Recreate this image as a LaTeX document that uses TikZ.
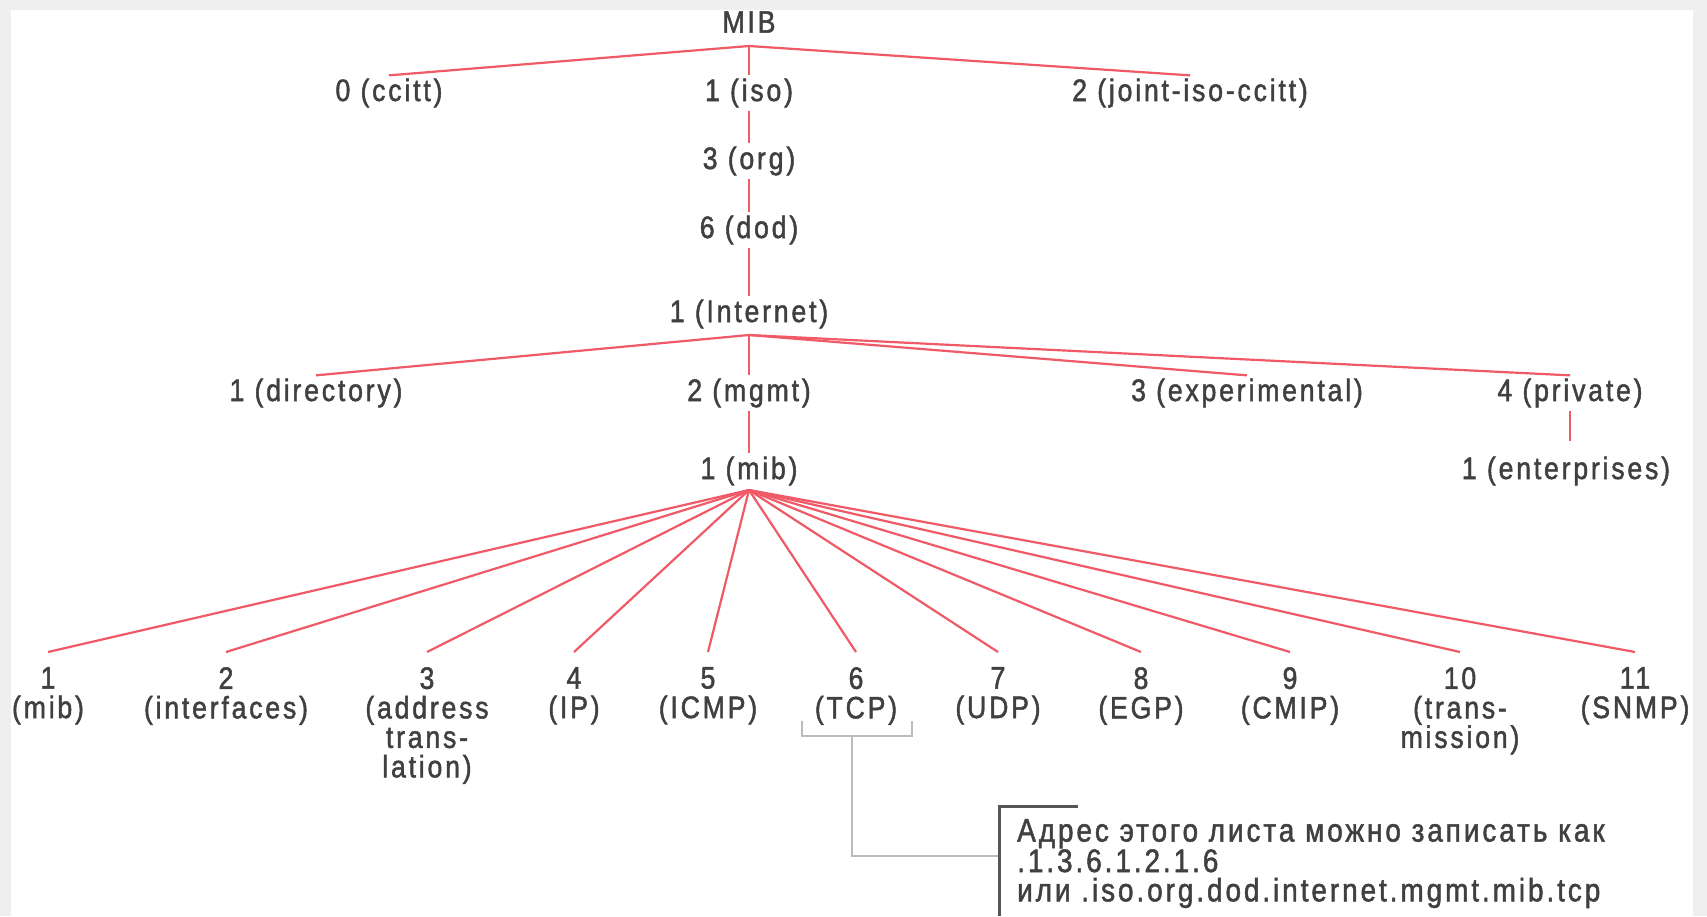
\documentclass[tikz,border=0pt]{standalone}
\usepackage{fontspec}
\setmainfont[LetterSpace=9,FakeStretch=0.86,FakeBold=1.5]{Liberation Sans}
\definecolor{bgc}{HTML}{EFEFEF}
\definecolor{redl}{HTML}{F05A66}
\definecolor{txt}{HTML}{404040}
\definecolor{brk}{HTML}{BBBBBB}
\definecolor{boxc}{HTML}{555555}
\tikzset{
  lbl/.style={font=\fontsize{31}{29.5}\selectfont, text=txt, inner sep=3pt, align=center},
  edge/.style={draw=redl, line width=2.2pt},
  bracketline/.style={draw=brk, line width=2.5pt},
  boxline/.style={draw=boxc, line width=3pt},
  note/.style={font=\fontsize{32.5}{29.3}\selectfont, text=txt, align=left, inner sep=0pt, anchor=north west}
}
\begin{document}
\begin{tikzpicture}[x=1pt,y=-1pt]
\useasboundingbox (0,0) rectangle (1707,916);
\fill[bgc] (0,0) rectangle (1707,916);
\fill[white] (11,10) rectangle (1693,916);

% top levels
\node[lbl] (mib0) at (749,22) {MIB};
\coordinate (J0) at (749,46);
\node[lbl] (ccitt) at (389,93) {0 (ccitt)};
\node[lbl] (iso) at (749,93) {1 (iso)};
\node[lbl] (joint) at (1190,93) {2 (joint-iso-ccitt)};
\node[lbl] (org) at (749,161) {3 (org)};
\node[lbl] (dod) at (749,230) {6 (dod)};
\node[lbl] (inet) at (749,314) {1 (Internet)};
\coordinate (J1) at (749,335);
\node[lbl] (dir) at (316,393) {1 (directory)};
\node[lbl] (mgmt) at (749,393) {2 (mgmt)};
\node[lbl] (exp) at (1247,393) {3 (experimental)};
\node[lbl] (priv) at (1570,393) {4 (private)};
\node[lbl] (mib) at (749,471) {1 (mib)};
\node[lbl] (ent) at (1566,471) {1 (enterprises)};
\coordinate (J2) at (749,490);

% bottom row
\node[lbl, anchor=north] (b1) at (48,664) {1\\(mib)};
\node[lbl, anchor=north] (b2) at (226,664) {2\\(interfaces)};
\node[lbl, anchor=north] (b3) at (427,664) {3\\(address\\trans-\\lation)};
\node[lbl, anchor=north] (b4) at (574,664) {4\\(IP)};
\node[lbl, anchor=north] (b5) at (708,664) {5\\(ICMP)};
\node[lbl, anchor=north] (b6) at (856,664) {6\\(TCP)};
\node[lbl, anchor=north] (b7) at (998,664) {7\\(UDP)};
\node[lbl, anchor=north] (b8) at (1141,664) {8\\(EGP)};
\node[lbl, anchor=north] (b9) at (1290,664) {9\\(CMIP)};
\node[lbl, anchor=north] (b10) at (1460,664) {10\\(trans-\\mission)};
\node[lbl, anchor=north] (b11) at (1635,664) {11\\(SNMP)};

% edges
\draw[edge] (ccitt.north) -- (J0) -- (joint.north);
\draw[edge] (J0) -- (iso.north);
\draw[edge] (iso.south) -- (org.north);
\draw[edge] (org.south) -- (dod.north);
\draw[edge] (dod.south) -- (inet.north);
\draw[edge] (dir.north) -- (J1) -- (exp.north);
\draw[edge] (J1) -- (priv.north);
\draw[edge] (J1) -- (mgmt.north);
\draw[edge] (mgmt.south) -- (mib.north);
\draw[edge] (priv.south) -- ([yshift=12pt]priv.south |- ent.north);
\foreach \b in {b1,b2,b3,b4,b5,b6,b7,b8,b9,b10,b11}
  \draw[edge] (J2) -- ([yshift=12pt]\b.north);

% bracket under TCP
\coordinate (bl) at (802,721);
\coordinate (br) at (912,721);
\coordinate (bm) at (852,736);
\coordinate (bc) at (852,856);
\draw[bracketline] (bl) -- (802,736) -- (912,736) -- (br);
\node[note] (addr) at (1017,819) {Адрес этого листа можно записать как\\.1.3.6.1.2.1.6\\или .iso.org.dod.internet.mgmt.mib.tcp};
\coordinate (bx) at (999,856);
\draw[bracketline] (bm) -- (bc) -- (bx);
\draw[boxline] (999,916) -- (999,806) -- (1078,806);
\end{tikzpicture}
\end{document}
